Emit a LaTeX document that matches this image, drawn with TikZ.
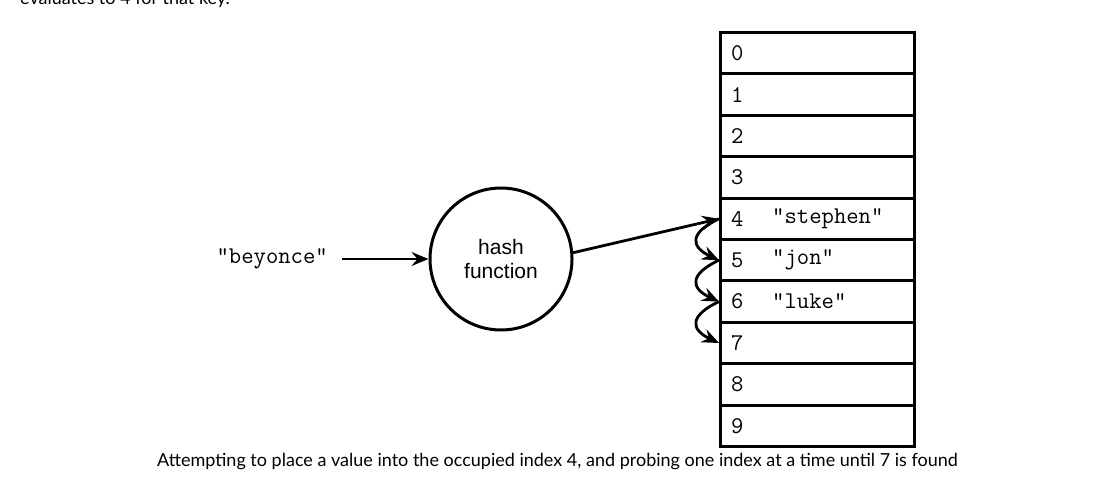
\documentclass[tikz,border=0pt]{standalone}
\usepackage{fontspec}
\setmainfont{Lato}
\newfontfamily\arialfont{Liberation Sans}
\usetikzlibrary{arrows.meta}

\begin{document}
\begin{tikzpicture}[x=1pt,y=-1pt]
\tikzstyle{every node}+=[inner sep=0pt]
\tikzstyle{slot}=[draw, line width=3pt, minimum width=194pt, minimum height=41.4pt, anchor=north west]
\tikzstyle{code}=[font=\ttfamily\fontsize{24}{26}\selectfont, anchor=west]
\tikzstyle{probe}=[line width=2.8pt, -{Stealth[length=17pt,width=14pt,inset=6pt]}]
\useasboundingbox (0,0) rectangle (1095,478);
\node[anchor=base west, font=\fontsize{18}{21}\selectfont] (intro) at (20,5) {evaluates to 4 for that key.};
\foreach \i in {0,...,9}
  \node[slot] (s\i) at (719,31+41.4*\i) {};
\foreach \i in {0,...,9}
  \node[code] (n\i) at ([xshift=12pt]s\i.west) {\i};
\node[code] (v4) at ([xshift=53pt]s4.west) {"stephen"};
\node[code] (v5) at ([xshift=53pt]s5.west) {"jon"};
\node[code] (v6) at ([xshift=53pt]s6.west) {"luke"};
\node[draw, circle, line width=3pt, minimum size=142pt, align=center, font=\arialfont\fontsize{21}{24}\selectfont] (hash) at (501,259) {hash\\function};
\node[code, anchor=east] (key) at (328,259) {"beyonce"};
\draw[probe, line width=2.4pt, shorten <=14pt] (key.east) -- (hash.west);
\draw[probe] (hash.5) -- (s4.west);
\foreach \a/\b in {4/5,5/6,6/7}
  \draw[probe] (s\a.west) to[out=205,in=155,looseness=2] (s\b.west);
\node[font=\fontsize{18}{21}\selectfont] (caption) at (557.5,462) {Attempting to place a value into the occupied index 4, and probing one index at a time until 7 is found};
\end{tikzpicture}
\end{document}
